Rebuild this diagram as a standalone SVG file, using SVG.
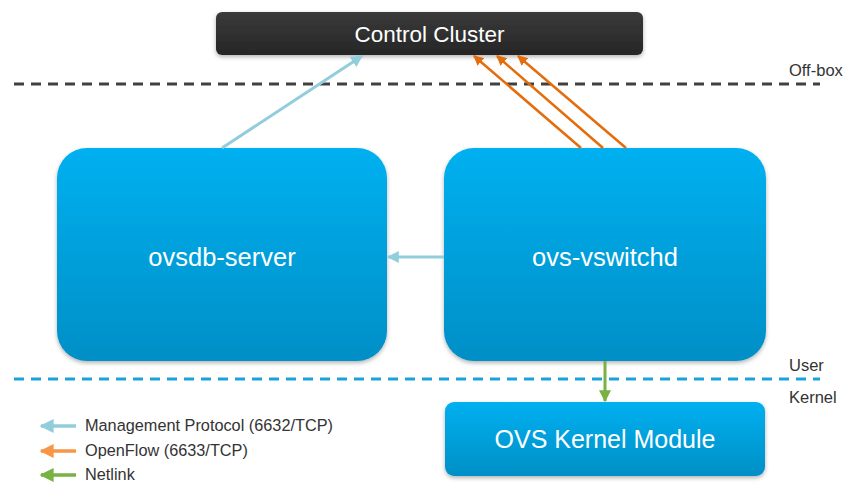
<svg xmlns="http://www.w3.org/2000/svg" width="848" height="483" viewBox="0 0 848 483">
<style>
.lbl{font-family:"Liberation Sans",Arial,sans-serif;fill:#ffffff}
.side{font-family:"Liberation Sans",Arial,sans-serif;font-size:16.5px;fill:#333}
.leg{font-family:"Liberation Sans",Arial,sans-serif;font-size:16.3px;fill:#333}
.blue{fill:url(#bg);filter:url(#sh)}
</style>
<defs>
<linearGradient id="bg" x1="0" y1="0" x2="0" y2="1">
<stop offset="0" stop-color="#00b0f0"/>
<stop offset="1" stop-color="#008fc6"/>
</linearGradient>
<linearGradient id="dg" x1="0" y1="0" x2="0" y2="1">
<stop offset="0" stop-color="#3a3a3a"/>
<stop offset="1" stop-color="#262626"/>
</linearGradient>
<filter id="sh" x="-10%" y="-10%" width="120%" height="130%">
<feDropShadow dx="0" dy="2" stdDeviation="2" flood-color="#000" flood-opacity="0.3"/>
</filter>
<marker id="mb" viewBox="0 0 10 10" refX="9" refY="5" markerWidth="4" markerHeight="4" orient="auto-start-reverse"><path d="M0,0 L10,5 L0,10 z" fill="#92cddc"/></marker>
<marker id="mo" viewBox="0 0 10 10" refX="9" refY="5" markerWidth="4" markerHeight="4" orient="auto-start-reverse"><path d="M0,0 L10,5 L0,10 z" fill="#e46c0a"/></marker>
<marker id="mol" viewBox="0 0 10 10" refX="9" refY="5" markerWidth="4" markerHeight="4" orient="auto-start-reverse"><path d="M0,0 L10,5 L0,10 z" fill="#f79646"/></marker>
<marker id="mg" viewBox="0 0 10 10" refX="9" refY="5" markerWidth="4" markerHeight="4" orient="auto-start-reverse"><path d="M0,0 L10,5 L0,10 z" fill="#77b243"/></marker>
</defs>
<rect width="848" height="483" fill="#ffffff"/>

<g id="boundaries">
<line x1="14" y1="84" x2="820" y2="84" stroke="#404040" stroke-width="3" stroke-dasharray="10,7"/>
<line x1="14" y1="379" x2="820" y2="379" stroke="#1aa3d8" stroke-width="3" stroke-dasharray="10,7"/>
<text class="side" x="789" y="76">Off-box</text>
<text class="side" x="789" y="371">User</text>
<text class="side" x="789" y="403">Kernel</text>
</g>

<g id="control-cluster">
<rect x="216" y="12" width="427" height="43" rx="6" fill="url(#dg)" filter="url(#sh)"/>
<text class="lbl" x="429.5" y="42" font-size="22.5" text-anchor="middle">Control Cluster</text>
</g>

<g id="ovsdb-server">
<rect class="blue" x="57" y="148" width="330" height="213" rx="30"/>
<text class="lbl" x="222" y="266" font-size="25.5" text-anchor="middle">ovsdb-server</text>
</g>

<g id="ovs-vswitchd">
<rect class="blue" x="444" y="148" width="322" height="213" rx="30"/>
<text class="lbl" x="605" y="266" font-size="25.5" text-anchor="middle">ovs-vswitchd</text>
</g>

<g id="ovs-kernel-module">
<rect class="blue" x="445" y="402" width="320" height="74" rx="9"/>
<text class="lbl" x="605" y="448" font-size="25" text-anchor="middle">OVS Kernel Module</text>
</g>

<g id="connectors" fill="none" stroke-width="3">
<line x1="222" y1="148" x2="362" y2="56" stroke="#92cddc" marker-end="url(#mb)"/>
<line x1="444" y1="257" x2="388" y2="257" stroke="#92cddc" marker-end="url(#mb)"/>
<line x1="581" y1="148" x2="474" y2="56" stroke="#e46c0a" stroke-width="2.5" marker-end="url(#mo)"/>
<line x1="603" y1="148" x2="497" y2="56" stroke="#e46c0a" stroke-width="2.5" marker-end="url(#mo)"/>
<line x1="626" y1="148" x2="518" y2="56" stroke="#e46c0a" stroke-width="2.5" marker-end="url(#mo)"/>
<line x1="605" y1="361" x2="605" y2="401" stroke="#77b243" marker-end="url(#mg)"/>
</g>

<g id="legend">
<line x1="76" y1="426" x2="41" y2="426" stroke="#92cddc" stroke-width="3.5" marker-end="url(#mb)"/>
<text class="leg" x="85" y="431">Management Protocol (6632/TCP)</text>
<line x1="76" y1="451" x2="41" y2="451" stroke="#f79646" stroke-width="3.5" marker-end="url(#mol)"/>
<text class="leg" x="85" y="456">OpenFlow (6633/TCP)</text>
<line x1="76" y1="475" x2="41" y2="475" stroke="#77b243" stroke-width="3.5" marker-end="url(#mg)"/>
<text class="leg" x="85" y="480">Netlink</text>
</g>
</svg>
